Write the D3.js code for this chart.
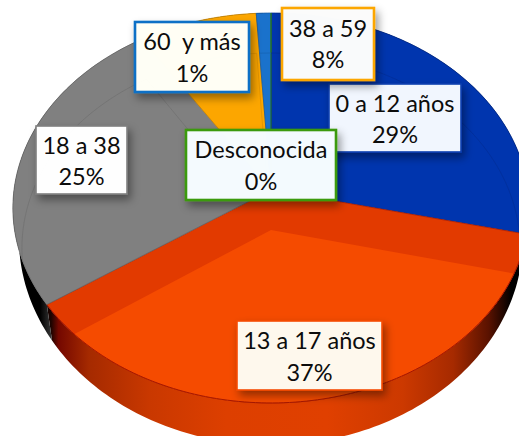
<!DOCTYPE html>
<html>
<head>
<meta charset="utf-8">
<script src="https://cdn.jsdelivr.net/npm/d3@7"></script>
<style>
html,body{margin:0;padding:0;background:#fff;overflow:hidden}
svg{display:block}
text{font-family:Lato,"Open Sans",sans-serif;fill:#0c0c0c;white-space:pre}
</style>
</head>
<body>
<svg id="c" width="519" height="436"></svg>
<script>
const categories = ["0 a 12 años","13 a 17 años","18 a 38","38 a 59","60  y más","Desconocida"];
const values = [28.6,36.9,25.4,8.1,1.0,0];
const faceColors = ["#0035ae","#e23a00","#808080","#fca600","#1a72cc","#3a9a10"];
const labelBorders = ["#0a3fb0","#f54b00","#7f7f7f","#fca600","#0f6fc6","#3a9a10"];
const labelFills = ["#f3f8ff","#fffaf0","#ffffff","#fbfcfc","#fffff6","#f5fcff"];
// label box corners, in chart pixels
const labelBoxes = [[329,84,461,152],[237,321,382,390],[36,126,127,194],[282,8,374,80],[135,22,249,92],[186,130,336,200]];
const textOffsets = [[27.5,59],[28,59.5],[27.5,59],[29,60],[28,60],[28,60]];

const svg = d3.select("#c");
const defs = svg.append("defs");

// perspective disc seen from above
const k = 0.0923;
const xS = d3.scaleLinear().domain([-1,1]).range([271-257,271+257]);
const yS = d3.scaleLinear().domain([-1,1]).range([190+193.3,190-193.3]);
function topPt(theta, r=1){
  const u=r*Math.sin(theta), v=r*Math.cos(theta), d=1+k*v;
  return [xS(u/d), yS(v/d)];
}
function lowPt(theta){
  const p=topPt(theta);
  return [271+(p[0]-271)*252/258, 238+(p[1]-208)*207/195];
}
function innerPt(theta, r=1){
  const p=topPt(theta,r);
  return [271+(p[0]-271)*0.965, p[1]+40];
}
const line = d3.line();
function samples(a,b){
  const n=Math.max(2,Math.ceil(Math.abs(b-a)/0.02));
  return d3.range(n+1).map(i=>a+(b-a)*i/n);
}
const wedge=(fn,a,b)=>line([fn(0,0)].concat(samples(a,b).map(t=>fn(t))))+"Z";
const wall=(a,b)=>line(samples(a,b).map(t=>topPt(t)).concat(samples(a,b).reverse().map(t=>lowPt(t))))+"Z";

const slices = d3.pie().sort(null).value(d=>d)(values);

// side wall gradient
const sideStops=[[0,"#000"],[.075,"#1a0300"],[.09,"#740800"],[.15,"#a52a00"],[.27,"#c93800"],[.42,"#dd3f00"],[.62,"#e04000"],[.77,"#cc3900"],[.87,"#a62a00"],[.94,"#5a1200"],[.985,"#000"],[1,"#000"]];
const g=defs.append("linearGradient").attr("id","side").attr("gradientUnits","userSpaceOnUse")
  .attr("x1",13).attr("x2",519).attr("y1",0).attr("y2",0);
sideStops.forEach(s=>g.append("stop").attr("offset",s[0]).attr("stop-color",s[1]));
const g2=defs.append("linearGradient").attr("id","sideDark").attr("gradientUnits","userSpaceOnUse")
  .attr("x1",13).attr("x2",52).attr("y1",0).attr("y2",0);
g2.append("stop").attr("offset",0).attr("stop-color","#000");
g2.append("stop").attr("offset",.7).attr("stop-color","#000");
g2.append("stop").attr("offset",1).attr("stop-color","#3a3a3a");

const fl=defs.append("filter").attr("id","sh").attr("x","-30%").attr("y","-30%").attr("width","160%").attr("height","170%");
fl.append("feDropShadow").attr("dx",3).attr("dy",5).attr("stdDeviation",4).attr("flood-color","#000").attr("flood-opacity",.4);

// side walls
svg.append("g").selectAll("path").data(slices).join("path")
  .attr("d",d=>wall(d.startAngle,d.endAngle))
  .attr("fill",(d,i)=>i===1?"url(#side)":i===2?"url(#sideDark)":"#000");

// top faces
slices.forEach((d,i)=>{
  defs.append("clipPath").attr("id","w"+i).append("path").attr("d",wedge(topPt,d.startAngle,d.endAngle));
});
svg.append("g").selectAll("path").data(slices).join("path")
  .attr("d",d=>wedge(topPt,d.startAngle,d.endAngle))
  .attr("fill",(d,i)=>faceColors[i])
  .attr("stroke",(d,i)=>i===1?"#b32000":d3.color(faceColors[i]).darker(.6))
  .attr("stroke-width",.8);

// inner raised face inside each wedge
svg.append("g").selectAll("path").data(slices).join("path")
  .attr("clip-path",(d,i)=>`url(#w${i})`)
  .attr("d",d=>wedge(innerPt,d.startAngle,d.endAngle))
  .attr("fill",(d,i)=>i===1?"#f54b00":"none")
  .attr("stroke",(d,i)=>i===1?"none":d3.color(faceColors[i]).darker(.45))
  .attr("stroke-opacity",.75)
  .attr("stroke-width",.8);

// rim line of the red wedge
svg.append("path")
  .attr("d",line(samples(slices[1].startAngle,slices[1].endAngle).map(t=>topPt(t))))
  .attr("fill","none").attr("stroke","#a81800").attr("stroke-width",1);

// labels
const lab=svg.append("g").selectAll("g").data(slices).join("g");
lab.append("rect")
  .attr("x",(d,i)=>labelBoxes[i][0]).attr("y",(d,i)=>labelBoxes[i][1])
  .attr("width",(d,i)=>labelBoxes[i][2]-labelBoxes[i][0])
  .attr("height",(d,i)=>labelBoxes[i][3]-labelBoxes[i][1])
  .attr("fill",(d,i)=>labelFills[i]).attr("fill-opacity",.99)
  .attr("stroke",(d,i)=>labelBorders[i])
  .attr("stroke-width",(d,i)=>(i===3||i===4||i===5)?2.6:1.6)
  .attr("filter","url(#sh)");
lab.append("text")
  .attr("x",(d,i)=>(labelBoxes[i][0]+labelBoxes[i][2])/2)
  .attr("y",(d,i)=>labelBoxes[i][1]+textOffsets[i][0])
  .attr("text-anchor","middle").attr("font-size",23.5)
  .text((d,i)=>categories[i]);
lab.append("text")
  .attr("x",(d,i)=>(labelBoxes[i][0]+labelBoxes[i][2])/2)
  .attr("y",(d,i)=>labelBoxes[i][1]+textOffsets[i][1])
  .attr("text-anchor","middle").attr("font-size",23.5)
  .text((d,i)=>Math.round(values[i])+"%");
</script>
</body>
</html>
